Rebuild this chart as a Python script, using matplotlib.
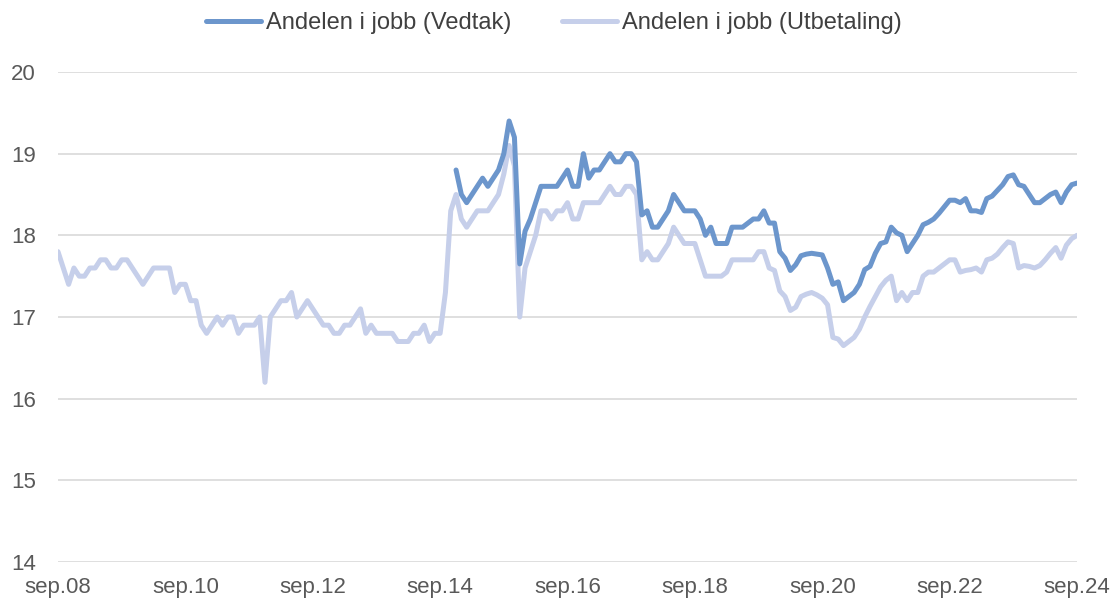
"""
Andelen i jobb - Vedtak vs Utbetaling, månedlig sep.08 - sep.24
"""

import numpy as np
import matplotlib.pyplot as plt

plt.rcParams['font.family'] = ['Liberation Sans', 'DejaVu Sans']

# x-akse: måneder fra sep.08 (indeks 0) til sep.24 (indeks 192)
tick_pos = [0, 24, 48, 72, 96, 120, 144, 168, 192]
tick_labels = ['sep.08', 'sep.10', 'sep.12', 'sep.14', 'sep.16',
               'sep.18', 'sep.20', 'sep.22', 'sep.24']

# Andelen i jobb (Utbetaling), sep.08 - sep.24
utbetaling = [
    17.8, 17.6, 17.4, 17.6, 17.5, 17.5, 17.6, 17.6, 17.7, 17.7,
    17.6, 17.6, 17.7, 17.7, 17.6, 17.5, 17.4, 17.5, 17.6, 17.6,
    17.6, 17.6, 17.3, 17.4, 17.4, 17.2, 17.2, 16.9, 16.8, 16.9,
    17.0, 16.9, 17.0, 17.0, 16.8, 16.9, 16.9, 16.9, 17.0, 16.2,
    17.0, 17.1, 17.2, 17.2, 17.3, 17.0, 17.1, 17.2, 17.1, 17.0,
    16.9, 16.9, 16.8, 16.8, 16.9, 16.9, 17.0, 17.1, 16.8, 16.9,
    16.8, 16.8, 16.8, 16.8, 16.7, 16.7, 16.7, 16.8, 16.8, 16.9,
    16.7, 16.8, 16.8, 17.3, 18.3, 18.5, 18.2, 18.1, 18.2, 18.3,
    18.3, 18.3, 18.4, 18.5, 18.75, 19.1, 18.85, 17.0, 17.6, 17.8,
    18.0, 18.3, 18.3, 18.2, 18.3, 18.3, 18.4, 18.2, 18.2, 18.4,
    18.4, 18.4, 18.4, 18.5, 18.6, 18.5, 18.5, 18.6, 18.6, 18.5,
    17.7, 17.8, 17.7, 17.7, 17.8, 17.9, 18.1, 18.0, 17.9, 17.9,
    17.9, 17.7, 17.5, 17.5, 17.5, 17.5, 17.55, 17.7, 17.7, 17.7,
    17.7, 17.7, 17.8, 17.8, 17.6, 17.57, 17.32, 17.25, 17.08, 17.12,
    17.25, 17.28, 17.3, 17.27, 17.23, 17.15, 16.75, 16.73, 16.65, 16.7,
    16.75, 16.85, 17.0, 17.13, 17.25, 17.37, 17.45, 17.5, 17.2, 17.3,
    17.2, 17.3, 17.3, 17.5, 17.55, 17.55, 17.6, 17.65, 17.7, 17.7,
    17.55, 17.57, 17.58, 17.6, 17.55, 17.7, 17.72, 17.77, 17.85, 17.92,
    17.9, 17.6, 17.63, 17.62, 17.6, 17.63, 17.7, 17.78, 17.85, 17.72,
    17.88, 17.96, 18.0,
]

# Andelen i jobb (Vedtak), starter des.14 (indeks 75)
vedtak_start = 75
vedtak = [
    18.8, 18.5, 18.4, 18.5, 18.6, 18.7, 18.6, 18.7, 18.8, 19.0,
    19.4, 19.2, 17.65, 18.05, 18.2, 18.4, 18.6, 18.6, 18.6, 18.6,
    18.7, 18.8, 18.6, 18.6, 19.0, 18.7, 18.8, 18.8, 18.9, 19.0,
    18.9, 18.9, 19.0, 19.0, 18.9, 18.25, 18.3, 18.1, 18.1, 18.2,
    18.3, 18.5, 18.4, 18.3, 18.3, 18.3, 18.2, 18.0, 18.1, 17.9,
    17.9, 17.9, 18.1, 18.1, 18.1, 18.15, 18.2, 18.2, 18.3, 18.15,
    18.15, 17.8, 17.72, 17.57, 17.64, 17.75, 17.77, 17.78, 17.77, 17.76,
    17.6, 17.4, 17.43, 17.2, 17.25, 17.3, 17.4, 17.58, 17.62, 17.78,
    17.9, 17.92, 18.1, 18.03, 18.0, 17.8, 17.9, 18.0, 18.13, 18.16,
    18.2, 18.27, 18.35, 18.43, 18.43, 18.4, 18.45, 18.3, 18.3, 18.28,
    18.45, 18.48, 18.55, 18.62, 18.72, 18.74, 18.62, 18.6, 18.5, 18.4,
    18.4, 18.45, 18.5, 18.53, 18.4, 18.53, 18.62, 18.64,
]

x_utb = np.arange(len(utbetaling))
x_ved = np.arange(vedtak_start, vedtak_start + len(vedtak))

fig = plt.figure(figsize=(11.14, 6.06), dpi=100)
ax = fig.add_axes([58 / 1114, 1 - 562 / 606, (1077 - 58) / 1114, (562 - 72) / 606])

ax.plot(x_ved, vedtak, color='#6C96CC', lw=3.6, label='Andelen i jobb (Vedtak)',
        solid_joinstyle='round', solid_capstyle='round', zorder=3)
ax.plot(x_utb, utbetaling, color='#C6CFEA', lw=3.6, label='Andelen i jobb (Utbetaling)',
        solid_joinstyle='round', solid_capstyle='round', zorder=2)

ax.set_xlim(0, 192)
ax.set_ylim(14, 20)
ax.set_yticks([14, 15, 16, 17, 18, 19, 20])
ax.set_xticks(tick_pos)
ax.set_xticklabels(tick_labels)
ax.grid(axis='y', color='#D9D9D9', lw=1.2)
ax.set_axisbelow(True)
for s in ax.spines.values():
    s.set_visible(False)
ax.tick_params(axis='both', length=0, labelsize=16, colors='#595959')
ax.tick_params(axis='y', pad=16)
ax.tick_params(axis='x', pad=11)

# legende ovenfor plottet, sentrert
fig.legend(loc='center', bbox_to_anchor=(0.497, 1 - 23 / 606), ncol=2, frameon=False,
           fontsize=17, handlelength=2.33, handletextpad=0.2, columnspacing=2.15,
           labelcolor='#404040')

fig.savefig('out.png', dpi=100)
